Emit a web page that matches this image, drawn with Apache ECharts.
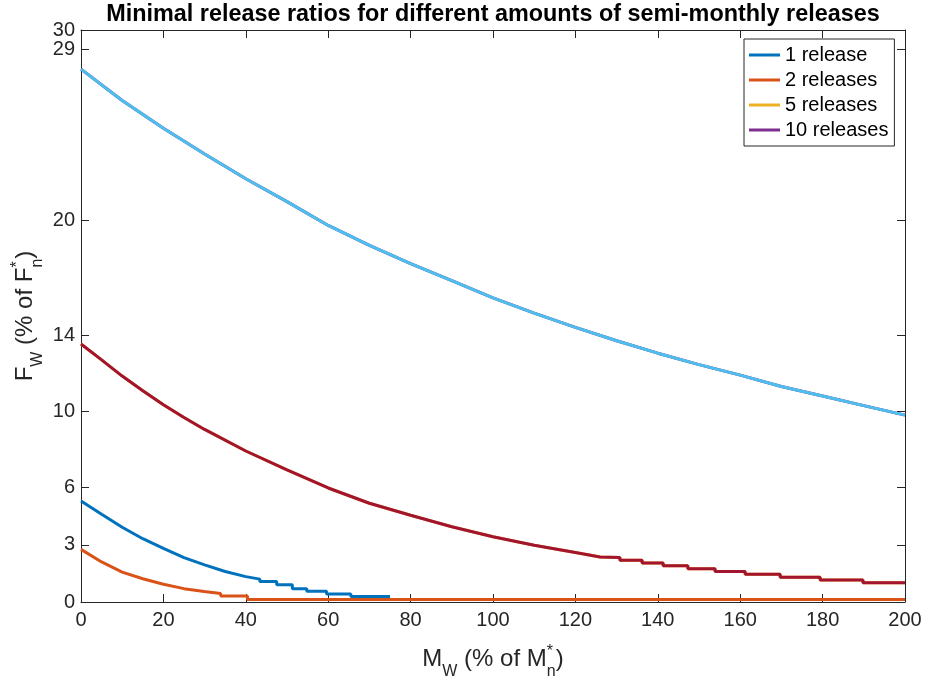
<!DOCTYPE html>
<html><head><meta charset="utf-8">
<script src="https://cdn.jsdelivr.net/npm/echarts@6/dist/echarts.min.js"></script>
<style>html,body{margin:0;padding:0;background:#fff}#c{width:925px;height:681px}</style>
</head><body><div id="c"></div>
<script>
// ---------- data ----------
const chartTitle = 'Minimal release ratios for different amounts of semi-monthly releases';
const xTicks = [0, 20, 40, 60, 80, 100, 120, 140, 160, 180, 200];
const yTicks = [0, 3, 6, 10, 14, 20, 29, 30];
const yLabelsA = [0, 3, 6, 10, 14, 20, 30];   // labels drawn on the main left axis
const yLabelsB = [29];                         // label drawn on an overlay axis (close to 30)
const legendNames = ['1 release', '2 releases', '5 releases', '10 releases'];

// 1 release (blue): smooth part, then stair part (step start x, level), ends at oneEnd
const oneX = [0, 5, 10, 15, 20, 25, 30, 35, 40, 43.4];
const oneY = [5.30, 4.60, 3.92, 3.32, 2.81, 2.33, 1.95, 1.60, 1.33, 1.20];
const oneStepX = [43.4, 47.5, 51.3, 54.8, 59.6, 65.5];
const oneStepY = [1.08, 0.90, 0.70, 0.56, 0.42, 0.29];
const oneEnd = 75;

// 2 releases (orange)
const twoX = [0, 5, 10, 15, 20, 25, 29.9];
const twoY = [2.76, 2.10, 1.57, 1.22, 0.93, 0.70, 0.55];
const twoStepX = [29.9, 33.9, 40.4];
const twoStepY = [0.45, 0.31, 0.13];
const twoEnd = 200;

// lower visible curve (dark red; the 5-releases yellow line lies underneath it)
const lowX = [0, 5, 10, 15, 20, 25, 30, 40, 50, 60, 70, 80, 90, 100, 110, 120, 126];
const lowY = [13.53, 12.70, 11.85, 11.08, 10.35, 9.68, 9.05, 7.92, 6.93, 5.98, 5.18, 4.55, 3.95, 3.42, 2.98, 2.60, 2.36];
const lowStepX = [126, 130.8, 136.2, 141.3, 147.3, 153.9, 161.2, 169.7, 179.4, 189.8];
const lowStepY = [2.34, 2.19, 2.04, 1.90, 1.75, 1.60, 1.45, 1.30, 1.16, 1.01];
const lowEnd = 200;

// upper visible curve (light blue; the 10-releases purple line lies underneath it)
const highX = [0, 10, 20, 30, 40, 50, 60, 70, 80, 90, 100, 110, 120, 130, 140, 150, 160, 170, 180, 190, 200];
const highY = [27.95, 26.30, 24.85, 23.50, 22.20, 21.00, 19.75, 18.70, 17.75, 16.85, 15.95, 15.15, 14.40, 13.70, 13.05, 12.45, 11.90, 11.30, 10.80, 10.30, 9.80];

// ---------- helpers ----------
function curve(xs, ys, sx, sy, end) {
  const pts = xs.map((x, i) => [x, ys[i]]);
  if (sx) {
    for (let i = 0; i < sx.length; i++) {
      const nx = i + 1 < sx.length ? sx[i + 1] : end;
      pts.push([sx[i], sy[i]]);
      pts.push([nx, sy[i]]);
    }
  }
  return pts;
}
const FONT = '"Liberation Sans", Arial, Helvetica, sans-serif';
const TXT = '#262626';
const cv = document.createElement('canvas').getContext('2d');
function w(t, fs, bold) { cv.font = (bold ? 'bold ' : '') + fs + 'px ' + FONT; return cv.measureText(t).width; }

// pieces: {t, fs, dy, stack}  (stack: share x with next piece)
function richLabel(pieces) {
  let total = 0;
  for (let i = 0; i < pieces.length; i++) {
    const p = pieces[i];
    if (p.stack) { total += Math.max(w(p.t, p.fs), w(pieces[i + 1].t, pieces[i + 1].fs)); i++; }
    else total += w(p.t, p.fs);
  }
  let x = -total / 2;
  const els = [];
  for (let i = 0; i < pieces.length; i++) {
    const p = pieces[i];
    els.push({ type: 'text', x: x, y: p.dy, style: { text: p.t, fontSize: p.fs, fontFamily: FONT, fill: TXT, textAlign: 'left', textVerticalAlign: 'middle' } });
    if (p.stack) {
      const q = pieces[i + 1];
      els.push({ type: 'text', x: x, y: q.dy, style: { text: q.t, fontSize: q.fs, fontFamily: FONT, fill: TXT, textAlign: 'left', textVerticalAlign: 'middle' } });
      x += Math.max(w(p.t, p.fs), w(q.t, q.fs)); i++;
    } else x += w(p.t, p.fs);
  }
  return els;
}

const xTitle = richLabel([
  { t: 'M', fs: 24, dy: 0 }, { t: 'W', fs: 16, dy: 13 }, { t: ' (% of M', fs: 24, dy: 0 },
  { t: 'n', fs: 16, dy: 13, stack: true }, { t: '*', fs: 16, dy: -7 }, { t: ')', fs: 24, dy: 0 }
]);
const yTitle = richLabel([
  { t: 'F', fs: 24, dy: 0 }, { t: 'W', fs: 16, dy: 13 }, { t: ' (% of F', fs: 24, dy: 0 },
  { t: 'n', fs: 16, dy: 13, stack: true }, { t: '*', fs: 16, dy: -7 }, { t: ')', fs: 24, dy: 0 }
]);

const chart = echarts.init(document.getElementById('c'), null, { renderer: 'canvas' });
const line = (name, data, color, z) => ({
  name, type: 'line', data, symbol: 'none', showSymbol: false, z,
  lineStyle: { color, width: 3 }, itemStyle: { color }, emphasis: { disabled: true }, animation: false
});
const yLabelStyle = { fontSize: 20, fontFamily: FONT, color: TXT, margin: 6, showMinLabel: true, showMaxLabel: true, hideOverlap: false };

chart.setOption({
  animation: false,
  backgroundColor: '#fff',
  grid: { left: 81, right: 20, top: 30, bottom: 79, containLabel: false, outerBoundsMode: 'none' },
  legend: {
    data: legendNames, orient: 'vertical', left: 744, top: 39,
    padding: [6, 6, 6, 5], itemGap: 5, itemWidth: 31, itemHeight: 3, icon: 'rect',
    textStyle: { fontSize: 20, lineHeight: 20, fontFamily: FONT, color: '#000' },
    borderColor: '#262626', borderWidth: 1, backgroundColor: '#fff', selectedMode: false
  },
  xAxis: [
    { type: 'value', min: 0, max: 200, interval: 20, position: 'bottom',
      axisLine: { show: true, onZero: false, lineStyle: { color: TXT, width: 1 } },
      axisTick: { show: true, inside: true, length: 8, lineStyle: { color: TXT } },
      axisLabel: { fontSize: 20, fontFamily: FONT, color: TXT, margin: 8, showMinLabel: true, showMaxLabel: true, customValues: xTicks },
      splitLine: { show: false } },
    { type: 'value', min: 0, max: 200, interval: 20, position: 'top',
      axisLine: { show: true, onZero: false, lineStyle: { color: TXT, width: 1 } },
      axisTick: { show: true, inside: true, length: 8, lineStyle: { color: TXT } },
      axisLabel: { show: false }, splitLine: { show: false } }
  ],
  yAxis: [
    { type: 'value', min: 0, max: 30, position: 'left',
      axisLine: { show: true, onZero: false, lineStyle: { color: TXT, width: 1 } },
      axisTick: { show: true, inside: true, length: 8, customValues: yTicks, lineStyle: { color: TXT } },
      axisLabel: Object.assign({ customValues: yLabelsA }, yLabelStyle),
      splitLine: { show: false } },
    { type: 'value', min: 0, max: 30, position: 'right',
      axisLine: { show: true, onZero: false, lineStyle: { color: TXT, width: 1 } },
      axisTick: { show: true, inside: true, length: 8, customValues: yTicks, lineStyle: { color: TXT } },
      axisLabel: { show: false }, splitLine: { show: false } },
    { type: 'value', min: 0, max: 30, position: 'left', offset: 0,
      axisLine: { show: false }, axisTick: { show: false },
      axisLabel: Object.assign({ customValues: yLabelsB }, yLabelStyle),
      splitLine: { show: false } }
  ],
  series: [
    line(legendNames[0], curve(oneX, oneY, oneStepX, oneStepY, oneEnd), '#0072BD', 2),
    line(legendNames[1], curve(twoX, twoY, twoStepX, twoStepY, twoEnd), '#D95319', 2),
    line(legendNames[2], curve(lowX, lowY, lowStepX, lowStepY, lowEnd), '#EDB120', 2),
    line(legendNames[3], curve(highX, highY), '#7E2F8E', 2),
    line('upper curve', curve(highX, highY), '#4DBEEE', 3),
    line('lower curve', curve(lowX, lowY, lowStepX, lowStepY, lowEnd), '#A2142F', 3)
  ],
  graphic: [
    { type: 'text', x: 493, y: 15, z: 10,
      style: { text: chartTitle, fontSize: 23.4, fontWeight: 'bold', fontFamily: FONT, fill: '#000', textAlign: 'center', textVerticalAlign: 'middle' } },
    { type: 'group', x: 493, y: 659, children: xTitle },
    { type: 'group', x: 25, y: 316, rotation: Math.PI / 2, children: yTitle }
  ]
});
</script>
</body></html>
